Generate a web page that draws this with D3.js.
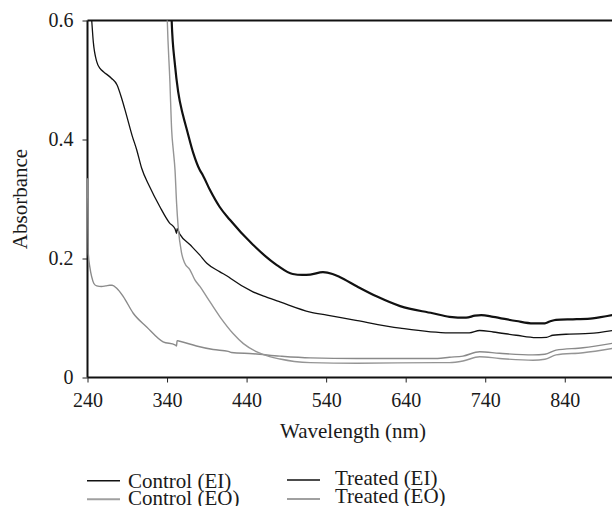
<!DOCTYPE html>
<html>
<head>
<meta charset="utf-8">
<script src="https://cdn.jsdelivr.net/npm/d3@7"></script>
<style>
  body { margin: 0; background: #fff; }
</style>
</head>
<body>
<svg id="chart"></svg>
<script>
const serif = '"Liberation Serif", "Times New Roman", serif';

// axis ticks
const xTicks = [240, 340, 440, 540, 640, 740, 840];
const yTicks = [0, 0.2, 0.4, 0.6];
const yTickLabels = ['0', '0.2', '0.4', '0.6'];

// Control (EI)
const controlEIWl = [240, 243, 245.3, 247.3, 251.6, 256, 260, 270, 277, 283, 289, 296, 302, 308, 318, 331, 343, 350, 352, 352.6, 356, 369, 381, 390, 406, 418, 421, 448, 465, 482, 520, 541, 574, 633, 695, 720, 733, 750, 779, 804, 817, 825, 846, 871, 900];
const controlEIAbs = [0.72, 0.64, 0.600, 0.564, 0.531, 0.519, 0.514, 0.503, 0.492, 0.469, 0.441, 0.407, 0.382, 0.352, 0.321, 0.287, 0.260, 0.250, 0.242, 0.250, 0.241, 0.223, 0.206, 0.192, 0.178, 0.1685, 0.1655, 0.144, 0.135, 0.127, 0.110, 0.105, 0.097, 0.083, 0.075, 0.075, 0.079, 0.0765, 0.071, 0.067, 0.0675, 0.071, 0.073, 0.074, 0.079];

// Treated (EI)
const treatedEIWl = [344.5, 345.8, 350, 354, 360, 365, 373, 381, 385, 394, 406, 419, 448, 478, 498, 510, 520, 536, 548, 557, 579, 604, 633, 674, 695, 716, 727, 735, 750, 779, 800, 815, 821, 829, 855, 875, 900];
const treatedEIAbs = [0.66, 0.600, 0.525, 0.480, 0.441, 0.416, 0.377, 0.349, 0.340, 0.315, 0.287, 0.265, 0.223, 0.189, 0.174, 0.1725, 0.173, 0.177, 0.174, 0.169, 0.153, 0.136, 0.120, 0.108, 0.102, 0.1005, 0.104, 0.105, 0.102, 0.095, 0.091, 0.091, 0.094, 0.097, 0.098, 0.0995, 0.105];

// Control (EO)
const controlEOWl = [240, 240.5, 241, 243, 245.3, 248, 251.6, 257.8, 263, 268, 271, 276.7, 285, 297.5, 314.4, 335, 350, 352, 352.6, 356, 377, 398, 417, 421, 448, 482, 520, 579, 680, 695, 712, 733, 758, 800, 815, 829, 863, 900];
const controlEOAbs = [0.335, 0.28, 0.209, 0.185, 0.169, 0.158, 0.154, 0.153, 0.154, 0.155, 0.155, 0.150, 0.136, 0.108, 0.085, 0.060, 0.055, 0.053, 0.062, 0.061, 0.053, 0.047, 0.044, 0.042, 0.040, 0.036, 0.033, 0.032, 0.032, 0.034, 0.036, 0.0434, 0.0407, 0.038, 0.039, 0.046, 0.050, 0.0575];

// Treated (EO)
const treatedEOWl = [339.5, 340.3, 343.6, 345.8, 348, 350, 352, 354, 358.3, 362, 368.8, 375, 381.3, 389.7, 406.5, 423, 436, 453, 469, 482, 500, 520, 579, 680, 695, 712, 733, 758, 800, 815, 829, 863, 900];
const treatedEOAbs = [0.64, 0.600, 0.497, 0.416, 0.38, 0.349, 0.293, 0.253, 0.209, 0.193, 0.181, 0.164, 0.153, 0.136, 0.102, 0.074, 0.057, 0.043, 0.035, 0.031, 0.027, 0.025, 0.024, 0.025, 0.025, 0.0277, 0.035, 0.032, 0.029, 0.0306, 0.038, 0.0417, 0.049];

const series = [
  { name: 'Control (EI)', wl: controlEIWl, abs: controlEIAbs, color: '#111', width: 1.3 },
  { name: 'Treated (EI)', wl: treatedEIWl, abs: treatedEIAbs, color: '#111', width: 2.2 },
  { name: 'Control (EO)', wl: controlEOWl, abs: controlEOAbs, color: '#8a8a8a', width: 1.4 },
  { name: 'Treated (EO)', wl: treatedEOWl, abs: treatedEOAbs, color: '#959595', width: 1.4 }
];

const width = 612;
const height = 506;
const svg = d3.select('#chart').attr('width', width).attr('height', height);

const x = d3.scaleLinear().domain([240, 900]).range([87.5, 612.5]);
const y = d3.scaleLinear().domain([0, 0.6]).range([377.5, 20.5]);

// clip the curves to the plot area
svg.append('clipPath').attr('id', 'plotClip')
  .append('rect')
  .attr('x', x(240) - 1).attr('y', y(0.6))
  .attr('width', x(900) - x(240) + 1).attr('height', y(0) - y(0.6));

// top frame line
svg.append('line')
  .attr('x1', x(240)).attr('x2', x(900))
  .attr('y1', y(0.6)).attr('y2', y(0.6))
  .attr('stroke', '#111').attr('stroke-width', 2);

// y axis
const yAxis = svg.append('g')
  .attr('transform', `translate(${x(240)},0)`)
  .call(d3.axisLeft(y).tickValues(yTicks).tickSize(5).tickPadding(9)
    .tickFormat((d, i) => yTickLabels[i]));
yAxis.attr('font-family', null).attr('font-size', null);
yAxis.select('.domain').attr('stroke', '#111').attr('stroke-width', 2).attr('d', `M0,${y(0)}V${y(0.6)}`);
yAxis.selectAll('.tick line').attr('stroke', '#222');
yAxis.selectAll('.tick text')
  .style('font-family', serif).style('font-size', '20px').attr('fill', '#1a1a1a');

// x axis
const xAxis = svg.append('g')
  .attr('transform', `translate(0,${y(0)})`)
  .call(d3.axisBottom(x).tickValues(xTicks).tickSize(5).tickPadding(10));
xAxis.attr('font-family', null).attr('font-size', null);
xAxis.select('.domain').attr('stroke', '#111').attr('stroke-width', 2).attr('d', `M${x(240)},0H${x(900)}`);
xAxis.selectAll('.tick line').attr('stroke', '#222');
xAxis.selectAll('.tick text')
  .style('font-family', serif).style('font-size', '20px').attr('fill', '#1a1a1a');

// curves
const line = d3.line()
  .x((d) => x(d[0]))
  .y((d) => y(d[1]))
  .curve(d3.curveMonotoneX);

const plot = svg.append('g').attr('clip-path', 'url(#plotClip)');
series.forEach((s) => {
  plot.append('path')
    .datum(s.wl.map((w, i) => [w, s.abs[i]]))
    .attr('d', line)
    .attr('fill', 'none')
    .attr('stroke', s.color)
    .attr('stroke-width', s.width)
    .attr('stroke-linejoin', 'round');
});

// axis titles
svg.append('text')
  .text('Wavelength (nm)')
  .attr('x', (x(240) + x(900)) / 2 + 3)
  .attr('y', 438)
  .attr('text-anchor', 'middle')
  .style('font-family', serif)
  .style('font-size', '21px')
  .attr('fill', '#1a1a1a');

svg.append('text')
  .text('Absorbance')
  .attr('transform', `translate(27,${(y(0) + y(0.6)) / 2}) rotate(-90)`)
  .attr('text-anchor', 'middle')
  .style('font-family', serif)
  .style('font-size', '21px')
  .attr('fill', '#1a1a1a');

// legend
const legendPos = [
  { lx: 87, ly: 480.7, tx: 128, ty: 488 },
  { lx: 287, ly: 480, tx: 335, ty: 485 },
  { lx: 87, ly: 499.3, tx: 128, ty: 505 },
  { lx: 287, ly: 499, tx: 335, ty: 502.5 }
];
series.forEach((s, i) => {
  const p = legendPos[i];
  svg.append('line')
    .attr('x1', p.lx).attr('x2', p.lx + 33)
    .attr('y1', p.ly).attr('y2', p.ly)
    .attr('stroke', i < 2 ? '#111' : '#a0a0a0')
    .attr('stroke-width', i < 2 ? 1.5 : 2);
  svg.append('text')
    .text(s.name)
    .attr('x', p.tx)
    .attr('y', p.ty)
    .style('font-family', serif)
    .style('font-size', '21px')
    .attr('fill', '#1a1a1a');
});
</script>
</body>
</html>
